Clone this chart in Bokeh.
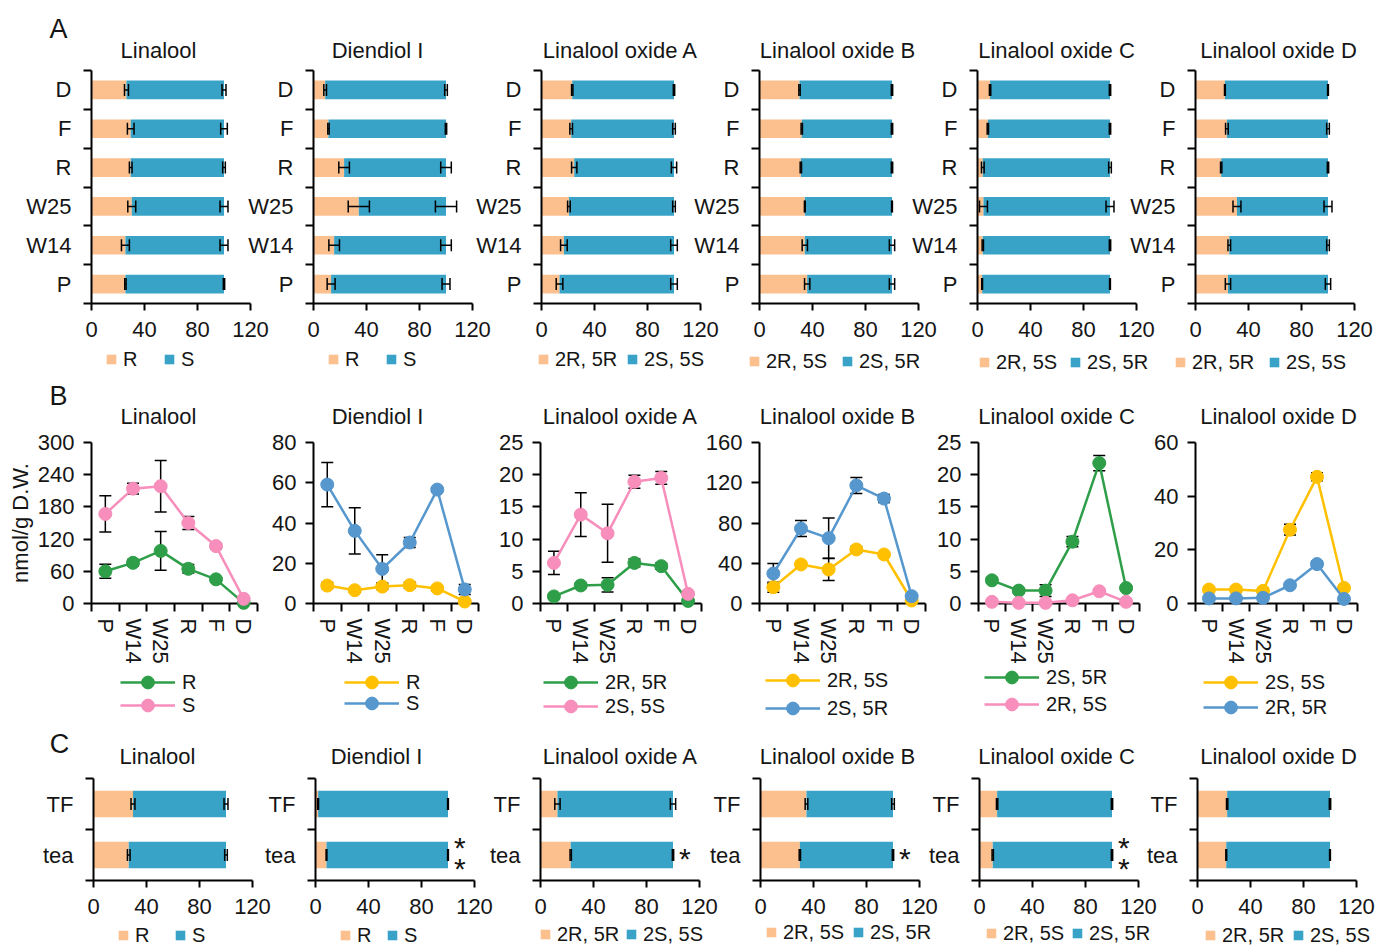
from bokeh.plotting import figure
from bokeh.models import (ColumnDataSource, Whisker, TeeHead, FixedTicker, Legend,
                          LegendItem, Label, Range1d)
from bokeh.layouts import row, column
from bokeh.embed import file_html
from bokeh.resources import INLINE
from bokeh.core.properties import value

# ----------------------------------------------------------------- data
compounds = ["Linalool", "Diendiol I", "Linalool oxide A", "Linalool oxide B",
             "Linalool oxide C", "Linalool oxide D"]
stages = ["P", "W14", "W25", "R", "F", "D"]
products = ["tea", "TF"]
pct_ticks = [0, 40, 80, 120]
panel_letters = ["A", "B", "C"]

bar_isomers = [["R", "S"], ["R", "S"], ["2R, 5R", "2S, 5S"], ["2R, 5S", "2S, 5R"],
               ["2R, 5S", "2S, 5R"], ["2R, 5R", "2S, 5S"]]

# Panel A: share (%) of the first isomer per stage (P, W14, W25, R, F, D) and SD
a_linalool = [25.6, 25.6, 30.4, 29.6, 29.6, 26.4]
a_diendiol = [13.3, 15.6, 34.2, 23.1, 11.3, 8.8]
a_oxide_a = [13.6, 16.9, 20.7, 24.7, 22.4, 23.2]
a_oxide_b = [36.0, 34.2, 34.2, 31.2, 31.9, 30.2]
a_oxide_c = [3.5, 4.0, 4.5, 4.0, 7.8, 9.5]
a_oxide_d = [24.5, 25.5, 31.3, 19.4, 23.7, 22.2]
a_linalool_sd = [0.5, 3.0, 3.0, 1.0, 2.5, 1.5]
a_diendiol_sd = [3.0, 4.0, 8.0, 4.0, 0.5, 1.0]
a_oxide_a_sd = [2.5, 2.5, 1.0, 2.0, 1.0, 0.5]
a_oxide_b_sd = [2.0, 2.0, 0.3, 0.5, 0.5, 0.5]
a_oxide_c_sd = [0.3, 0.5, 3.0, 1.0, 0.5, 0.5]
a_oxide_d_sd = [2.0, 1.0, 3.0, 0.5, 1.0, 0.3]

# Panel B: content (nmol/g D.W.) per stage
b_series_labels = [["R", "S"], ["R", "S"], ["2R, 5R", "2S, 5S"], ["2R, 5S", "2S, 5R"],
                   ["2S, 5R", "2R, 5S"], ["2S, 5S", "2R, 5R"]]
b_linalool_r = [60, 75.8, 98, 64.6, 45, 1.2]
b_linalool_r_sd = [13, 6, 36, 8, 3, 1]
b_linalool_s = [167, 214, 218.6, 150, 107, 8.7]
b_linalool_s_sd = [34, 10, 48, 12, 5, 2]
b_diendiol_r = [8.9, 6.6, 8.4, 9.1, 7.5, 1.0]
b_diendiol_r_sd = [1.5, 1.0, 1.5, 1.5, 1.0, 0.5]
b_diendiol_s = [59.1, 36.1, 17.2, 30.3, 56.6, 7.0]
b_diendiol_s_sd = [11, 11.5, 7, 2.5, 1, 2.5]
b_oxide_a_2r5r = [1.1, 2.8, 2.9, 6.3, 5.8, 0.4]
b_oxide_a_2r5r_sd = [0.3, 0.3, 1.1, 0.6, 0.5, 0.2]
b_oxide_a_2s5s = [6.3, 13.8, 10.9, 18.9, 19.5, 1.5]
b_oxide_a_2s5s_sd = [1.8, 3.4, 4.5, 1.0, 1.0, 0.3]
b_oxide_b_2r5s = [16.2, 38.8, 33.8, 53.7, 48.7, 3.0]
b_oxide_b_2r5s_sd = [5, 2, 11, 3, 2, 1]
b_oxide_b_2s5r = [29.8, 74.5, 64.9, 117.3, 104.3, 7.3]
b_oxide_b_2s5r_sd = [10, 8, 20, 8, 4, 1]
b_oxide_c_2s5r = [3.6, 2.0, 2.0, 9.6, 21.8, 2.4]
b_oxide_c_2s5r_sd = [0.4, 0.3, 0.9, 0.8, 1.2, 0.3]
b_oxide_c_2r5s = [0.26, 0.1, 0.1, 0.5, 1.9, 0.26]
b_oxide_c_2r5s_sd = [0.05, 0.05, 0.05, 0.1, 0.2, 0.05]
b_oxide_d_2s5s = [5.2, 5.2, 4.7, 27.5, 47.2, 5.8]
b_oxide_d_2s5s_sd = [1.0, 0.8, 1.0, 2.0, 1.5, 0.5]
b_oxide_d_2r5r = [1.9, 1.9, 2.1, 6.8, 14.7, 1.7]
b_oxide_d_2r5r_sd = [0.5, 0.3, 0.3, 0.5, 1.0, 0.3]
b_yticks = [[0, 60, 120, 180, 240, 300], [0, 20, 40, 60, 80], [0, 5, 10, 15, 20, 25],
            [0, 40, 80, 120, 160], [0, 5, 10, 15, 20, 25], [0, 20, 40, 60]]

# Panel C: share (%) of the first isomer in (tea, TF) and SD, significance for tea
c_linalool = [26.6, 29.8]
c_diendiol = [8.3, 2.0]
c_oxide_a = [22.8, 12.8]
c_oxide_b = [29.7, 34.7]
c_oxide_c = [10.0, 13.3]
c_oxide_d = [21.7, 22.4]
c_linalool_sd = [1.0, 1.5]
c_diendiol_sd = [0.3, 0.3]
c_oxide_a_sd = [0.5, 2.0]
c_oxide_b_sd = [0.5, 1.0]
c_oxide_c_sd = [0.5, 0.5]
c_oxide_d_sd = [0.3, 0.5]
c_marks = ["", "**", "*", "*", "**", ""]

a_first = [a_linalool, a_diendiol, a_oxide_a, a_oxide_b, a_oxide_c, a_oxide_d]
a_sd = [a_linalool_sd, a_diendiol_sd, a_oxide_a_sd, a_oxide_b_sd, a_oxide_c_sd, a_oxide_d_sd]
b_series = [[b_linalool_r, b_linalool_s], [b_diendiol_r, b_diendiol_s],
            [b_oxide_a_2r5r, b_oxide_a_2s5s], [b_oxide_b_2r5s, b_oxide_b_2s5r],
            [b_oxide_c_2s5r, b_oxide_c_2r5s], [b_oxide_d_2s5s, b_oxide_d_2r5r]]
b_sds = [[b_linalool_r_sd, b_linalool_s_sd], [b_diendiol_r_sd, b_diendiol_s_sd],
         [b_oxide_a_2r5r_sd, b_oxide_a_2s5s_sd], [b_oxide_b_2r5s_sd, b_oxide_b_2s5r_sd],
         [b_oxide_c_2s5r_sd, b_oxide_c_2r5s_sd], [b_oxide_d_2s5s_sd, b_oxide_d_2r5r_sd]]
c_first = [c_linalool, c_diendiol, c_oxide_a, c_oxide_b, c_oxide_c, c_oxide_d]
c_sd = [c_linalool_sd, c_diendiol_sd, c_oxide_a_sd, c_oxide_b_sd, c_oxide_c_sd, c_oxide_d_sd]

# ----------------------------------------------------------------- style / layout
FONT = "Liberation Sans"
INK = "#151515"
PEACH = "#FCC08F"
TEAL = "#38A3C7"
GREEN = "#2E9E48"
PINK = "#F78EBB"
GOLD = "#FFC000"
SKY = "#5697CE"
b_colors = [[GREEN, PINK], [GOLD, SKY], [GREEN, PINK], [GOLD, SKY], [GREEN, PINK], [GOLD, SKY]]
PAGE_W = 1376

# panel geometry (frame left, frame width, borders) per row
LAY_A = dict(top=0, T=70, FH=233, B=71, FL=[91, 313, 541, 759, 977, 1195], FW=[159] * 6,
             L=[72] * 6, R=[21] * 6, bar_h=0.48)
LAY_B = dict(top=374, T=68, FH=161, B=119, FL=[91, 313, 540, 759, 978, 1195],
             FW=[166, 165, 161, 166, 161, 162], L=[91, 72, 72, 72, 72, 72], R=[8] * 6)
LAY_C = dict(top=722, T=56, FH=102, B=66, FL=[93, 315, 540, 760, 979, 1197], FW=[159] * 6,
             L=[72] * 6, R=[19] * 6, bar_h=0.52)

# annotation placement on the page (pixels)
ANN_A = dict(letter=(58, 28), title_y=50, title_x=[158, 377, 620, 837, 1056, 1278],
             swatch_x=[[106, 164], [328, 386], [538, 627], [749, 842], [979, 1070],
                       [1175, 1269]],
             legend_y=[359, 359, 359, 361, 362, 362])
ANN_B = dict(letter=(58, 395), title_y=416, title_x=[158, 377, 620, 837, 1056, 1278],
             line_x=[120, 344, 543, 765, 984, 1203],
             legend_y=[[682, 705], [682, 703], [682, 706], [680, 708], [677, 704],
                       [682, 707]])
ANN_C = dict(letter=(59, 743), title_y=756, title_x=[157, 376, 620, 837, 1056, 1278],
             swatch_x=[[118, 175], [340, 387], [540, 626], [766, 853], [986, 1072],
                       [1205, 1293]],
             legend_y=[935, 935, 934, 932, 933, 935])


def base_style(p):
    p.background_fill_color = None
    p.border_fill_color = None
    p.outline_line_color = None
    p.xgrid.visible = False
    p.ygrid.visible = False
    for ax in p.axis:
        ax.axis_line_width = 2
        ax.axis_line_color = "black"
        ax.major_tick_line_width = 2
        ax.major_tick_line_color = "black"
        ax.minor_tick_line_width = 2
        ax.minor_tick_line_color = "black"
        ax.major_tick_in = 0
        ax.minor_tick_in = 0
        ax.minor_tick_out = 0
        ax.major_label_text_font = FONT
        ax.major_label_text_font_size = "22px"
        ax.major_label_text_color = INK


def whisker(src, base, lo, hi, dim, level, head):
    return Whisker(source=src, base=base, lower=lo, upper=hi, dimension=dim, level=level,
                   line_color="black", line_width=1.5,
                   upper_head=TeeHead(size=head, line_color="black", line_width=1.5),
                   lower_head=TeeHead(size=head, line_color="black", line_width=1.5))


def row_height(lay):
    return lay["T"] + lay["FH"] + lay["B"]


def new_fig(col, lay, xr, yr):
    L, R, fw = lay["L"][col], lay["R"][col], lay["FW"][col]
    p = figure(width=L + fw + R, height=row_height(lay), x_range=xr, y_range=yr,
               min_border_left=L, min_border_right=R, min_border_top=lay["T"],
               min_border_bottom=lay["B"], output_backend="svg", toolbar_location=None)
    base_style(p)
    return p


def bar_panel(col, cats, first, sd, lay, mark=""):
    n = len(cats)
    p = new_fig(col, lay, Range1d(0, 120), Range1d(0, n))
    ys = [i + 0.5 for i in range(n)]
    second = [100 - v for v in first]
    total = [a + b for a, b in zip(first, second)]
    src = ColumnDataSource(dict(
        y=ys, a=first, t=total,
        lo1=[a - e for a, e in zip(first, sd)], hi1=[a + e for a, e in zip(first, sd)],
        lo2=[t - e for t, e in zip(total, sd)], hi2=[t + e for t, e in zip(total, sd)]))
    p.hbar(y="y", left=0, right="a", height=lay["bar_h"], fill_color=PEACH,
           line_color=None, source=src)
    p.hbar(y="y", left="a", right="t", height=lay["bar_h"], fill_color=TEAL,
           line_color=None, source=src)
    for lo, hi in (("lo1", "hi1"), ("lo2", "hi2")):
        p.add_layout(whisker(src, "y", lo, hi, "width", "overlay", 12))
    p.xaxis.ticker = FixedTicker(ticks=pct_ticks)
    p.xaxis.major_tick_out = 7
    p.xaxis.major_label_standoff = 11
    p.yaxis.ticker = FixedTicker(ticks=ys, minor_ticks=list(range(n + 1)))
    p.yaxis.major_label_overrides = {y: c for y, c in zip(ys, cats)}
    p.yaxis.major_tick_out = 0
    p.yaxis.major_tick_line_color = None
    p.yaxis.minor_tick_out = 8
    p.yaxis.major_label_standoff = 12
    if mark:
        p.text(x=[109], y=[ys[0]], text=["\n".join(mark)], text_font=value(FONT),
               text_font_size="30px", text_align="center", text_baseline="middle",
               text_line_height=0.62, y_offset=3, text_color=INK)
    return p


def line_panel(col, lay):
    yt = b_yticks[col]
    p = new_fig(col, lay, Range1d(0, len(stages)), Range1d(0, yt[-1]))
    xs = [i + 0.5 for i in range(len(stages))]
    for vals, sd, c in zip(b_series[col], b_sds[col], b_colors[col]):
        src = ColumnDataSource(dict(x=xs, y=vals,
                                    lo=[v - e for v, e in zip(vals, sd)],
                                    hi=[v + e for v, e in zip(vals, sd)]))
        p.add_layout(whisker(src, "x", "lo", "hi", "height", "underlay", 12))
        ln = p.line("x", "y", source=src, line_color=c, line_width=2.5)
        sc = p.scatter("x", "y", source=src, size=13, fill_color=c, line_color=c)
        ln.level = "annotation"
        sc.level = "annotation"
    p.xaxis.ticker = FixedTicker(ticks=xs, minor_ticks=list(range(len(stages) + 1)))
    p.xaxis.major_label_overrides = {x: s for x, s in zip(xs, stages)}
    p.xaxis.major_label_orientation = "vertical"
    p.xaxis.major_tick_out = 0
    p.xaxis.major_tick_line_color = None
    p.xaxis.minor_tick_out = 8
    p.xaxis.major_label_standoff = 7
    p.yaxis.ticker = FixedTicker(ticks=yt)
    p.yaxis.major_tick_out = 8
    p.yaxis.major_label_standoff = 9
    if col == 0:
        p.yaxis.axis_label = "nmol/g D.W."
        p.yaxis.axis_label_text_font = FONT
        p.yaxis.axis_label_text_font_size = "22px"
        p.yaxis.axis_label_text_font_style = "normal"
        p.yaxis.axis_label_text_color = INK
        p.yaxis.axis_label_standoff = 2
    return p


def panel_row(figs, lay):
    prev_right = 0
    for col, p in enumerate(figs):
        left = int(round(lay["FL"][col] - lay["L"][col]))
        p.margin = (0, 0, 0, left - prev_right)
        prev_right = left + p.width
    return row(*figs)


def sheet(lay, ann, letter):
    """Transparent sheet laid over a row of panels; its units are page pixels
    (x to the right, y = minus the distance from the top of the page)."""
    H = row_height(lay)
    top = lay["top"]
    o = figure(width=PAGE_W, height=H, x_range=Range1d(0, PAGE_W),
               y_range=Range1d(-(top + H), -top), x_axis_type=None, y_axis_type=None,
               min_border=0, output_backend="svg", toolbar_location=None)
    o.title = None
    o.background_fill_color = None
    o.border_fill_color = None
    o.outline_line_color = None
    o.margin = (-H, 0, 0, 0)
    lx, ly = ann["letter"]
    o.add_layout(Label(x=lx, y=-ly, text=letter, text_font=FONT, text_font_size="27px",
                       text_color=INK, text_align="center", text_baseline="middle"))
    for name, tx in zip(compounds, ann["title_x"]):
        o.add_layout(Label(x=tx, y=-ann["title_y"], text=name, text_font=FONT,
                           text_font_size="22px", text_color=INK, text_align="center",
                           text_baseline="middle"))
    return o, top + H


def legend_at(o, item, x, y_center, bottom, gw, gh, standoff):
    o.add_layout(Legend(items=[item], location=(x, bottom - y_center - gh / 2),
                        orientation="vertical", glyph_width=gw, glyph_height=gh,
                        label_height=gh, label_standoff=standoff, padding=0, margin=0,
                        spacing=0, border_line_color=None, background_fill_alpha=0,
                        label_text_font=FONT, label_text_font_size="20px",
                        label_text_color=INK))


NAN = float("nan")


def bar_sheet(lay, ann, letter):
    o, bottom = sheet(lay, ann, letter)
    for col in range(len(compounds)):
        for k, colr in enumerate((PEACH, TEAL)):
            sw = o.scatter(x=[NAN], y=[NAN], marker="square", size=10, fill_color=colr,
                           line_color=None)
            legend_at(o, LegendItem(label=bar_isomers[col][k], renderers=[sw]),
                      ann["swatch_x"][col][k] - 7, ann["legend_y"][col], bottom, 24, 24, -2)
    return o


def line_sheet(lay, ann, letter):
    o, bottom = sheet(lay, ann, letter)
    for col in range(len(compounds)):
        for k, c in enumerate(b_colors[col]):
            pl = o.line(x=[NAN, NAN], y=[NAN, NAN], line_color=c, line_width=2.5)
            ps = o.scatter(x=[NAN], y=[NAN], size=13, fill_color=c, line_color=c)
            legend_at(o, LegendItem(label=b_series_labels[col][k], renderers=[pl, ps]),
                      ann["line_x"][col], ann["legend_y"][col][k], bottom, 55, 32, 7)
    return o


row_a = panel_row([bar_panel(i, stages, a_first[i], a_sd[i], LAY_A) for i in range(6)],
                  LAY_A)
row_b = panel_row([line_panel(i, LAY_B) for i in range(6)], LAY_B)
row_c = panel_row([bar_panel(i, products, c_first[i], c_sd[i], LAY_C, c_marks[i])
                   for i in range(6)], LAY_C)

page = column(row_a, bar_sheet(LAY_A, ANN_A, panel_letters[0]),
              row_b, line_sheet(LAY_B, ANN_B, panel_letters[1]),
              row_c, bar_sheet(LAY_C, ANN_C, panel_letters[2]))
open("out.html", "w").write(file_html(page, INLINE))
